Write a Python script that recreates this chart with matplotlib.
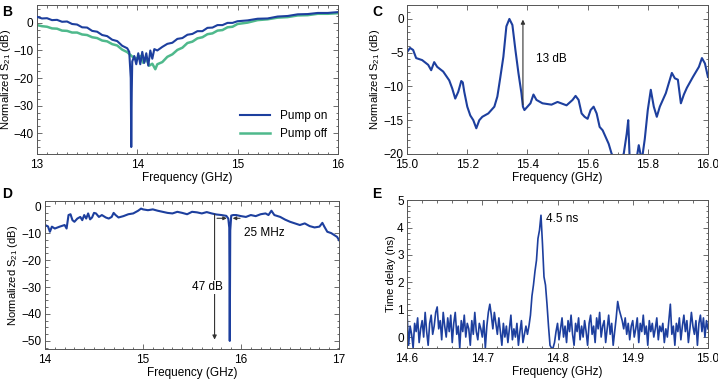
import numpy as np
import matplotlib
matplotlib.use('Agg')
import matplotlib.pyplot as plt
from matplotlib.ticker import MultipleLocator

plt.rcParams['font.family'] = ['Liberation Sans', 'DejaVu Sans']
plt.rcParams['font.size'] = 8.5
plt.rcParams['mathtext.fontset'] = 'custom'
plt.rcParams['mathtext.rm'] = 'Liberation Sans'

BLUE = '#1d3f9e'
GREEN = '#4fb98c'

# ---- panel B: S21 vs frequency, pump on / off ----
freq_b_on = [13.00, 13.05, 13.10, 13.15, 13.20, 13.25, 13.30, 13.35, 13.40, 13.45,
             13.50, 13.55, 13.60, 13.65, 13.70, 13.75, 13.80, 13.85, 13.90, 13.92,
             13.935, 13.94, 13.945, 13.95, 13.97, 13.99, 14.01, 14.03, 14.05, 14.07,
             14.09, 14.11, 14.13, 14.15, 14.17, 14.20, 14.25, 14.30, 14.35, 14.40,
             14.45, 14.50, 14.55, 14.60, 14.65, 14.70, 14.75, 14.80, 14.85, 14.90,
             14.95, 15.00, 15.10, 15.20, 15.30, 15.40, 15.50, 15.60, 15.70, 15.80,
             15.90, 16.00]
s21_b_on = [2.2, 1.6, 1.7, 1.0, 1.1, 0.4, 0.5, -0.4, -0.6, -1.6,
            -1.7, -2.9, -3.2, -4.4, -4.8, -6.1, -6.6, -8.3, -9.2, -10.5,
            -20.0, -45.0, -25.0, -14.0, -12.0, -15.0, -11.0, -15.0, -10.5, -14.5,
            -11.0, -15.5, -10.0, -13.0, -9.5, -10.0, -8.7, -7.6, -7.2, -5.8,
            -5.5, -4.3, -4.0, -3.0, -3.0, -1.8, -1.7, -0.8, -0.8, 0.0,
            0.0, 0.6, 0.9, 1.5, 1.6, 2.3, 2.5, 3.1, 3.2, 3.6,
            3.6, 3.9]

freq_b_off = [13.00, 13.05, 13.10, 13.15, 13.20, 13.25, 13.30, 13.35, 13.40, 13.45,
              13.50, 13.55, 13.60, 13.65, 13.70, 13.75, 13.80, 13.85, 13.90, 13.95,
              14.00, 14.03, 14.06, 14.09, 14.12, 14.15, 14.18, 14.20, 14.25, 14.30,
              14.35, 14.40, 14.45, 14.50, 14.55, 14.60, 14.65, 14.70, 14.75, 14.80,
              14.85, 14.90, 14.95, 15.00, 15.10, 15.20, 15.30, 15.40, 15.50, 15.60,
              15.70, 15.80, 15.90, 16.00]
s21_b_off = [-0.8, -1.2, -1.4, -2.0, -2.1, -2.8, -2.9, -3.5, -3.5, -4.2,
             -4.4, -5.2, -5.5, -6.4, -6.7, -7.7, -8.2, -9.7, -10.6, -12.2,
             -13.0, -12.0, -14.5, -13.0, -15.5, -14.8, -16.8, -15.0, -14.2, -12.3,
             -11.4, -9.8, -9.0, -7.3, -6.8, -5.6, -5.2, -4.1, -3.8, -2.8,
             -2.6, -1.6, -1.4, -0.4, 0.1, 1.0, 1.3, 1.9, 2.1, 2.7,
             2.8, 3.3, 3.3, 3.5]

# ---- panel C: S21 around 15-16 GHz ----
freq_c = [15.000, 15.010, 15.020, 15.030, 15.050, 15.070, 15.080, 15.090, 15.100, 15.120,
          15.140, 15.150, 15.160, 15.170, 15.180, 15.185, 15.190, 15.200, 15.210, 15.220,
          15.230, 15.240, 15.250, 15.270, 15.290, 15.300, 15.310, 15.320, 15.330, 15.340,
          15.350, 15.360, 15.370, 15.380, 15.385, 15.390, 15.400, 15.410, 15.420, 15.430,
          15.450, 15.480, 15.500, 15.530, 15.550, 15.560, 15.570, 15.580, 15.590, 15.600,
          15.610, 15.620, 15.630, 15.640, 15.650, 15.660, 15.670, 15.680, 15.690, 15.700,
          15.720, 15.730, 15.735, 15.740, 15.760, 15.770, 15.780, 15.790, 15.800, 15.810,
          15.820, 15.830, 15.840, 15.860, 15.870, 15.880, 15.890, 15.900, 15.910, 15.920,
          15.930, 15.950, 15.970, 15.980, 15.990, 16.000]
s21_c = [-4.9, -4.3, -4.6, -5.8, -6.1, -6.8, -7.6, -6.4, -7.1, -7.8,
         -9.1, -10.3, -11.8, -10.8, -9.2, -9.4, -10.8, -13.0, -14.3, -15.0,
         -16.2, -15.0, -14.5, -14.0, -13.0, -11.5, -8.6, -5.6, -1.1, 0.0,
         -0.9, -4.6, -8.0, -11.0, -13.0, -13.5, -13.0, -12.5, -11.2, -12.0,
         -12.5, -12.7, -12.3, -12.8, -12.0, -11.4, -12.0, -14.0, -14.5, -14.8,
         -13.5, -13.0, -14.0, -16.0, -16.5, -17.5, -18.5, -20.0, -20.5, -21.0,
         -20.0, -17.0, -15.0, -21.0, -21.5, -18.7, -21.0, -17.8, -13.5, -10.5,
         -13.0, -14.5, -13.0, -11.0, -9.5, -8.0, -8.8, -9.0, -12.5, -11.2,
         -10.2, -8.6, -7.1, -5.8, -6.6, -8.6]

# ---- panel D: broadband S21 with notch ----
freq_d = [14.00, 14.03, 14.05, 14.07, 14.10, 14.15, 14.20, 14.22, 14.24, 14.26,
          14.28, 14.30, 14.33, 14.36, 14.38, 14.40, 14.42, 14.44, 14.46, 14.48,
          14.50, 14.52, 14.55, 14.58, 14.62, 14.65, 14.68, 14.70, 14.72, 14.75,
          14.80, 14.85, 14.90, 14.95, 14.98, 15.00, 15.05, 15.10, 15.15, 15.20,
          15.25, 15.30, 15.35, 15.40, 15.45, 15.50, 15.55, 15.60, 15.65, 15.70,
          15.75, 15.80, 15.85, 15.87, 15.88, 15.885, 15.89, 15.90, 15.92, 15.95,
          16.00, 16.05, 16.10, 16.15, 16.20, 16.25, 16.28, 16.31, 16.34, 16.40,
          16.45, 16.50, 16.55, 16.60, 16.65, 16.70, 16.75, 16.80, 16.83, 16.85,
          16.88, 16.92, 16.95, 16.98, 17.00]
s21_d = [-7.0, -7.5, -9.5, -7.6, -8.3, -7.6, -7.0, -8.3, -3.3, -3.0,
         -5.2, -5.8, -4.6, -4.0, -5.2, -3.3, -4.6, -2.7, -4.9, -4.2,
         -2.5, -2.7, -4.0, -3.3, -4.2, -4.6, -4.0, -2.5, -3.3, -4.2,
         -3.7, -3.0, -2.7, -1.7, -0.9, -1.2, -1.5, -1.2, -1.7, -2.1,
         -2.5, -2.7, -2.1, -2.5, -3.0, -2.1, -2.3, -2.7, -2.2, -2.7,
         -3.1, -3.3, -3.6, -4.6, -8.0, -50.0, -9.0, -3.5, -3.3, -3.3,
         -3.7, -4.0, -3.3, -3.7, -3.0, -2.7, -3.3, -1.7, -3.3, -4.0,
         -5.0, -5.8, -6.4, -7.0, -6.4, -7.4, -7.9, -7.6, -6.2, -7.6,
         -9.5, -10.0, -10.7, -11.4, -12.6]

# ---- panel E: group delay, 14.6-15.0 GHz in 2 MHz steps ----
delay_e = [0.8, -0.3, 0.4, 0.1, -0.4, 0.5, 0.2, 0.7, -0.2, 0.3,
           0.6, 0.0, 0.9, 0.2, -0.3, 0.5, 0.8, 0.1, 0.4, 0.9,
           1.1, 0.3, 0.6, -0.1, 0.9, 0.4, 0.0, 0.7, 0.2, 0.8,
           -0.2, 0.5, 0.9, 0.1, 0.4, -0.4, 0.6, 0.2, 0.8, 0.0,
           0.5, 0.3, -0.3, 0.6, 0.1, 0.9, 0.2, -0.1, 0.5, 0.3,
           0.0, 0.6, -0.4, 0.4, 0.9, 1.2, 0.8, 0.3, 0.9, 0.5,
           0.1, 0.7, 0.2, -0.3, 0.5, 0.0, 0.4, -0.2, 0.3, 0.8,
           -0.1, 0.3, 0.0, 0.5, -0.3, 0.2, 0.6, -0.2, 0.1, 0.4,
           0.1, 0.4, 0.8, 1.5, 1.9, 2.4, 2.8, 3.6, 3.9, 4.45,
           3.4, 2.2, 1.9, 1.2, 0.4, -0.3, -0.4, -0.4, -0.2, 0.2,
           0.5, -0.1, 0.3, 0.7, 0.0, 0.4, -0.2, 0.6, 0.2, 0.8,
           0.1, -0.3, 0.5, 0.2, 0.7, -0.1, 0.4, 0.0, 0.6, 0.2,
           -0.3, 0.5, 0.8, 0.1, 0.4, -0.2, 0.7, 0.3, 0.9, 0.0,
           0.4, 0.6, -0.2, 0.3, 0.8, 0.1, 0.5, -0.3, 0.2, 0.7,
           1.3, 1.0, 0.8, 0.6, 0.3, 0.7, 0.1, 0.5, -0.1, 0.4,
           0.6, 0.0, 0.3, 0.7, -0.2, 0.5, 0.2, 0.8, 0.1, 0.4,
           -0.3, 0.6, 0.2, 0.5, 0.0, 0.3, 0.7, -0.1, 0.4, 0.2,
           0.5, -0.2, 0.3, 0.0, 0.6, 1.2, 0.1, 0.4, -0.3, 0.5,
           0.2, 0.7, -0.1, 0.4, 0.8, 0.2, 0.6, -0.2, 0.3, 0.9,
           0.4, 0.1, 0.6, -0.3, 0.5, 0.8, 0.2, 0.7, 0.0, 0.6,
           0.3]
freq_e = np.linspace(14.6, 15.0, len(delay_e))

S21_LABEL = r'Normalized S$_{21}$ (dB)'


def style_axes(ax, xmajor, xminor, ymajor, yminor):
    ax.xaxis.set_major_locator(MultipleLocator(xmajor))
    ax.xaxis.set_minor_locator(MultipleLocator(xminor))
    ax.yaxis.set_major_locator(MultipleLocator(ymajor))
    ax.yaxis.set_minor_locator(MultipleLocator(yminor))
    ax.tick_params(which='both', direction='in', top=True, right=True,
                   color='#555555', width=0.6, pad=2.5)
    ax.tick_params(which='major', length=3.5)
    ax.tick_params(which='minor', length=1.8)
    ax.tick_params(axis='x', which='major', pad=3.5)
    for sp in ax.spines.values():
        sp.set_color('#555555')
        sp.set_linewidth(0.7)
    ax.set_xlabel('Frequency (GHz)', labelpad=1)


fig = plt.figure(figsize=(7.18, 3.81), dpi=100)

# B
ax = fig.add_axes([0.0515, 0.596, 0.419, 0.391])
ax.plot(freq_b_off, s21_b_off, color=GREEN, lw=1.8, label='Pump off', zorder=2)
ax.plot(freq_b_on, s21_b_on, color=BLUE, lw=1.5, label='Pump on', zorder=3)
ax.set_xlim(13, 16)
ax.set_ylim(-47.5, 6.5)
style_axes(ax, 1, 0.1, 10, 2.5)
ax.set_ylabel(S21_LABEL, labelpad=0, fontsize=8)
h, l = ax.get_legend_handles_labels()
ax.legend(h[::-1], l[::-1], loc='lower right', frameon=False, handlelength=2.6,
          fontsize=8.5, bbox_to_anchor=(1.0, 0.02))
fig.text(0.003, 0.968, 'B', fontsize=10, fontweight='bold', va='center')

# C
ax = fig.add_axes([0.567, 0.596, 0.419, 0.391])
ax.plot(freq_c, s21_c, color=BLUE, lw=1.5)
ax.set_xlim(15.0, 16.0)
ax.set_ylim(-20, 2.07)
style_axes(ax, 0.2, 0.1, 5, 1)
ax.xaxis.set_major_formatter(lambda v, p: f'{v:.1f}')
ax.set_ylabel(S21_LABEL, labelpad=1, fontsize=8)
ax.annotate('', xy=(15.385, -0.1), xytext=(15.385, -12.7),
            arrowprops=dict(arrowstyle='-|>', color='#333333', lw=0.8,
                            mutation_scale=6, shrinkA=0, shrinkB=0))
ax.text(15.43, -6, '13 dB', va='center', ha='left')
fig.text(0.518, 0.968, 'C', fontsize=10, fontweight='bold', va='center')

# D
ax = fig.add_axes([0.0627, 0.084, 0.4095, 0.388])
ax.plot(freq_d, s21_d, color=BLUE, lw=1.5)
ax.set_xlim(14, 17)
ax.set_ylim(-53, 1.85)
style_axes(ax, 1, 0.1, 10, 2.5)
ax.set_ylabel(S21_LABEL, labelpad=1, fontsize=8)
ax.annotate('', xy=(15.73, -49.5), xytext=(15.73, -3.0),
            arrowprops=dict(arrowstyle='-|>', color='#333333', lw=0.8,
                            mutation_scale=6, shrinkA=0, shrinkB=0))
ax.text(15.66, -30, '47 dB', ha='center', va='center',
        bbox=dict(facecolor='white', edgecolor='none', pad=1))
ax.annotate('', xy=(15.855, -4.5), xytext=(15.755, -4.5),
            arrowprops=dict(arrowstyle='-|>', color='#333333', lw=0.8,
                            mutation_scale=5, shrinkA=0, shrinkB=0))
ax.annotate('', xy=(15.915, -4.5), xytext=(15.99, -4.5),
            arrowprops=dict(arrowstyle='-|>', color='#333333', lw=0.8,
                            mutation_scale=5, shrinkA=0, shrinkB=0))
ax.text(16.03, -10, '25 MHz', ha='left', va='center')
fig.text(0.003, 0.49, 'D', fontsize=10, fontweight='bold', va='center')

# E
ax = fig.add_axes([0.567, 0.0866, 0.419, 0.388])
ax.plot(freq_e, delay_e, color=BLUE, lw=1.2)
ax.set_xlim(14.6, 15.0)
ax.set_ylim(-0.4, 5)
style_axes(ax, 0.1, 0.02, 1, 0.2)
ax.xaxis.set_major_formatter(lambda v, p: f'{v:.1f}')
ax.set_ylabel('Time delay (ns)', labelpad=1, fontsize=8)
ax.text(14.785, 4.33, '4.5 ns', ha='left', va='center')
fig.text(0.518, 0.49, 'E', fontsize=10, fontweight='bold', va='center')

fig.savefig('out.png', dpi=100)
